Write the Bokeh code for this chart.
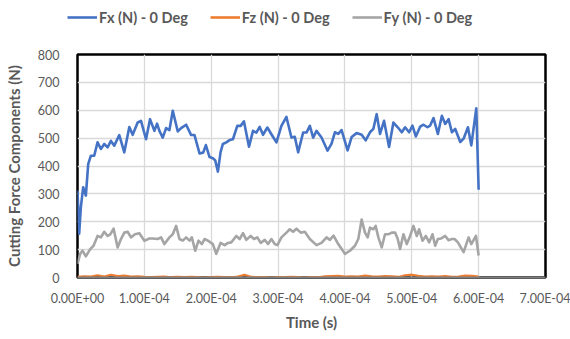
from bokeh.plotting import figure
from bokeh.layouts import column, row
from bokeh.models import Range1d, FixedTicker, CustomJSTickFormatter, Legend, LegendItem
from bokeh.embed import file_html
from bokeh.resources import INLINE

# ---- data (time in microseconds, force in N) ----
fx_t_us = [0, 2.5, 5, 8.5, 12.5, 16, 20, 25, 30, 35, 40, 45, 50, 55, 62.5, 70, 77.5, 82.5,
           90, 95, 102.5, 108.5, 115, 119, 122.5, 127.5, 132.5, 137.5, 142.5, 150, 155,
           162.5, 170, 175, 182.5, 188, 192, 197.5, 202.5, 206, 210, 214, 217.5, 222.5,
           227.5, 232.5, 239, 244, 249, 256.5, 262.5, 267.5, 272.5, 277.5, 284, 290,
           297.5, 305, 312.5, 320, 325, 330, 337.5, 342.5, 347.5, 352.5, 357.5, 365, 374,
           380, 385, 390, 395, 404, 410, 417.5, 425, 431, 437.5, 442.5, 447.5, 452.5,
           458.5, 466, 472.5, 479, 485, 490, 496, 501, 506, 512.5, 517.5, 523.5, 527.5,
           532.5, 539, 545, 550, 555, 560, 565, 572.5, 577.5, 584, 589, 596.5, 600]
fx_n = [312, 157, 252, 324, 294, 407, 437, 437, 485, 461, 479, 467, 490, 473, 511, 449, 540, 512,
        556, 562, 496, 568, 526, 552, 526, 502, 536, 529, 598, 524, 536,
        548, 511, 511, 445, 448, 475, 432, 428, 420, 380, 450, 479, 485,
        493, 496, 544, 544, 560, 469, 526, 520, 540, 512, 538, 514,
        485, 544, 576, 502, 505, 449, 520, 520, 544, 502, 526, 502, 455,
        480, 521, 515, 529, 456, 504, 518, 512, 492, 521, 533, 586, 515,
        562, 468, 556, 539, 521, 539, 521, 545, 506, 541, 548, 539, 545,
        572, 515, 580, 551, 568, 521, 533, 486, 498, 539, 474, 607, 315]

fy_t_us = [0, 4, 7.5, 12.5, 19, 24, 30, 35, 40, 45, 49, 54, 60, 65, 70, 75, 80, 86, 92.5, 100,
           107.5, 112.5, 120, 125, 130, 137.5, 142.5, 147.5, 152.5, 157.5, 162.5, 167.5, 171,
           176, 181, 186, 190, 195, 202.5, 207.5, 214, 220, 225, 230, 237.5, 242.5, 247.5,
           252.5, 259, 264, 269, 274, 280, 285, 290, 295, 299, 305, 312.5, 317.5, 322.5,
           327.5, 334, 340, 347.5, 357.5, 365, 372.5, 377.5, 383, 390, 400, 407.5, 415, 420,
           425, 430, 434, 437.5, 442.5, 446, 450, 455, 460, 465, 470, 475, 479, 482.5, 487.5,
           492.5, 497.5, 502.5, 507.5, 511, 516, 521, 526, 531, 535, 539, 544, 550, 555, 560,
           564, 569, 577.5, 585, 589, 596, 600]
fy_n = [49, 85, 96, 76, 102, 114, 149, 144, 164, 149, 155, 175, 108, 138, 161, 164, 144, 155, 159, 132,
        140, 140, 138, 144, 120, 144, 155, 185, 138, 132, 144, 132, 144,
        96, 132, 120, 138, 132, 120, 85, 124, 116, 124, 126, 149, 138, 159,
        135, 149, 138, 144, 124, 135, 120, 138, 120, 116, 144, 161, 173, 164,
        175, 161, 164, 138, 116, 124, 144, 135, 150, 120, 85, 96, 114, 138,
        208, 161, 144, 179, 173, 185, 144, 108, 155, 155, 161, 161, 138, 102, 155,
        120, 149, 185, 149, 173, 132, 149, 126, 155, 114, 138, 140, 149, 134, 138,
        138, 126, 91, 144, 120, 149, 79]

fz_t_us = [0, 10, 20, 30, 40, 50, 60, 70, 80, 90, 100, 110, 120, 130, 140, 150, 160, 170, 180,
           190, 200, 210, 220, 230, 240, 250, 260, 270, 280, 290, 300, 310, 320, 330, 340,
           350, 360, 370, 380, 390, 400, 410, 420, 430, 440, 450, 460, 470, 480, 490, 500,
           510, 520, 530, 540, 550, 560, 570, 580, 590, 600]
fz_n = [2, 4, 3, 8, 3, 10, 5, 7, 3, 4, 2, 1, 2, 3, 1, 2, 1, 2, 1,
        0, 1, 2, 1, 1, 3, 10, 2, 1, 1, 0, 1, 1, 2, 1, 0,
        1, 1, 4, 5, 6, 3, 4, 3, 7, 4, 3, 5, 4, 2, 8, 10,
        6, 3, 4, 3, 5, 2, 3, 7, 6, 3]

series_labels = ["Fx (N) - 0 Deg", "Fz (N) - 0 Deg", "Fy (N) - 0 Deg"]
series_colors = ["#4472C4", "#ED7D31", "#A5A5A5"]

x_ticks = [0, 1e-4, 2e-4, 3e-4, 4e-4, 5e-4, 6e-4, 7e-4]
x_tick_labels = ["0.00E+00", "1.00E-04", "2.00E-04", "3.00E-04", "4.00E-04",
                 "5.00E-04", "6.00E-04", "7.00E-04"]
y_ticks = [0, 100, 200, 300, 400, 500, 600, 700, 800]

FONT = "Lato"
TXT = "#595959"
LEG_H = 40

to_s = lambda arr: [v * 1e-6 for v in arr]

p = figure(width=570, height=339 - LEG_H, output_backend="svg", toolbar_location=None,
           x_range=Range1d(0, 7e-4), y_range=Range1d(0, 800),
           min_border_left=77, min_border_right=25, min_border_top=54 - LEG_H,
           min_border_bottom=62)
p.background_fill_color = "white"
p.border_fill_color = "white"
p.outline_line_color = "black"
p.outline_line_width = 2.5

r_fx = p.line(to_s(fx_t_us), fx_n, line_color=series_colors[0], line_width=2.6, line_join="round")
r_fz = p.line(to_s(fz_t_us), fz_n, line_color=series_colors[1], line_width=2.2, line_join="round")
r_fy = p.line(to_s(fy_t_us), fy_n, line_color=series_colors[2], line_width=2.6, line_join="round")

# axes
p.xaxis.ticker = FixedTicker(ticks=x_ticks)
p.xaxis.formatter = CustomJSTickFormatter(args=dict(labels=x_tick_labels),
                                          code="return labels[Math.round(tick / 1e-4)];")
p.yaxis.ticker = FixedTicker(ticks=y_ticks)
for ax in (p.xaxis[0], p.yaxis[0]):
    ax.major_tick_line_color = None
    ax.minor_tick_line_color = None
    ax.major_label_text_font = FONT
    ax.major_label_text_font_size = "12.5px"
    ax.major_label_text_color = TXT
    ax.axis_label_text_font = FONT
    ax.axis_label_text_font_style = "bold"
    ax.axis_label_text_font_size = "15px"
    ax.axis_label_text_color = TXT
p.xaxis.axis_line_color = "#7f7f7f"
p.xaxis.axis_line_width = 2
p.yaxis.axis_line_color = None
p.xaxis.major_label_standoff = 7
p.yaxis.major_label_standoff = 12
p.xaxis.axis_label = "Time (s)"
p.yaxis.axis_label = "Cutting Force Components (N)"
p.xaxis.axis_label_standoff = 4
p.yaxis.axis_label_standoff = 12

p.xgrid.ticker = FixedTicker(ticks=x_ticks)
p.ygrid.ticker = FixedTicker(ticks=y_ticks)
p.grid.grid_line_color = "#d9d9d9"
p.grid.grid_line_width = 1.3

# legend strip above the chart (series drawn off-screen, only their legend shows)
lf = figure(width=570, height=LEG_H, output_backend="svg", toolbar_location=None,
            x_axis_type=None, y_axis_type=None, min_border=0,
            min_border_left=0, min_border_right=0, min_border_top=0, min_border_bottom=0,
            x_range=Range1d(1, 2), y_range=Range1d(1000, 2000))
lf.outline_line_color = None
lf.grid.visible = False
lf.background_fill_color = "white"
lf.border_fill_color = "white"
leg_rends = [lf.line(to_s(t), v, line_color=c, line_width=2.6)
             for t, v, c in zip([fx_t_us, fz_t_us, fy_t_us], [fx_n, fz_n, fy_n], series_colors)]
lg = Legend(items=[LegendItem(label=lab, renderers=[r])
                   for lab, r in zip(series_labels, leg_rends)],
            location=(67, 13), orientation="horizontal", padding=0, margin=0, spacing=22,
            glyph_width=30, glyph_height=20, label_height=20, label_standoff=2,
            label_text_font=FONT, label_text_font_size="14.5px",
            label_text_font_style="bold", label_text_color=TXT,
            background_fill_alpha=0, border_line_color=None)
lf.add_layout(lg)

layout = column(row(lf), row(p), spacing=0)
open("out.html", "w").write(file_html(layout, INLINE))
